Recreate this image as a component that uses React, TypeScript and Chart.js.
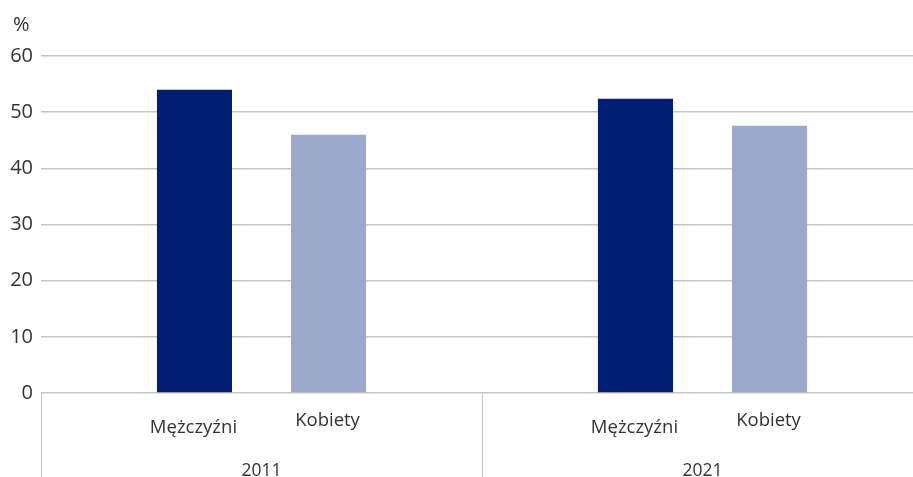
import React, { useEffect, useRef } from "react";
import { Chart, registerables } from "chart.js";

Chart.register(...registerables);

const years = ["2011", "2021"];
const seriesNames = ["Mężczyźni", "Kobiety"];
const menValues = [54.0, 52.4];
const womenValues = [46.0, 47.6];
const yTicks = [0, 10, 20, 30, 40, 50, 60];
const unitLabel = "%";

const DARK = "#011E72";
const LIGHT = "#9AA8CA";
const TEXT = "#333333";
const GRID = "#c6c6c6";
const FONT = "'Open Sans', 'Noto Sans', sans-serif";

const subLabelPlugin = {
  id: "subLabels",
  afterDraw(chart: any) {
    const ctx = chart.ctx;
    const area = chart.chartArea;
    ctx.save();
    ctx.fillStyle = TEXT;
    ctx.font = `18.5px ${FONT}`;
    ctx.textAlign = "center";
    ctx.textBaseline = "middle";
    const offsets = [35, 28];
    chart.data.datasets.forEach((ds: any, di: number) => {
      const meta = chart.getDatasetMeta(di);
      meta.data.forEach((bar: any) => {
        ctx.fillText(ds.label, bar.x - 1, area.bottom + offsets[di]);
      });
    });
    ctx.font = `20px ${FONT}`;
    ctx.textAlign = "left";
    ctx.fillText(unitLabel, 13, 25);
    ctx.restore();
  },
};

export default function App() {
  const ref = useRef<HTMLCanvasElement>(null);
  useEffect(() => {
    if (!ref.current) return;
    const chart = new Chart(ref.current, {
      type: "bar",
      data: {
        labels: years,
        datasets: [
          {
            label: seriesNames[0],
            data: menValues,
            backgroundColor: DARK,
            categoryPercentage: 0.608,
            barPercentage: 0.56,
          },
          {
            label: seriesNames[1],
            data: womenValues,
            backgroundColor: LIGHT,
            categoryPercentage: 0.608,
            barPercentage: 0.56,
          },
        ],
      },
      options: {
        responsive: false,
        animation: false,
        devicePixelRatio: 1,
        layout: { padding: { top: 56, left: 0, right: 0, bottom: 0 } },
        plugins: {
          legend: { display: false },
          tooltip: { enabled: false },
          title: { display: false },
        },
        scales: {
          x: {
            grid: {
              offset: true,
              drawOnChartArea: false,
              drawTicks: true,
              tickLength: 84,
              color: GRID,
              lineWidth: 1,
            },
            border: { display: false },
            ticks: {
              color: TEXT,
              font: { family: FONT, size: 17.5 },
              padding: -16,
              maxRotation: 0,
            },
            afterFit(scale: any) {
              scale.height = 84;
            },
          },
          y: {
            min: 0,
            max: 60,
            afterBuildTicks(scale: any) {
              scale.ticks = yTicks.map((v) => ({ value: v }));
            },
            grid: { color: GRID, lineWidth: 1.5, drawTicks: false },
            border: { display: false },
            ticks: {
              color: TEXT,
              font: { family: FONT, size: 20 },
              padding: 8,
            },
            afterFit(scale: any) {
              scale.width = 41;
            },
          },
        },
      },
      plugins: [subLabelPlugin],
    });
    return () => chart.destroy();
  }, []);

  return (
    <div
      style={{
        position: "fixed",
        left: 0,
        top: 0,
        width: 913,
        height: 477,
        overflow: "hidden",
        background: "#fff",
      }}
    >
      <canvas ref={ref} width={923} height={477} style={{ display: "block" }} />
    </div>
  );
}
